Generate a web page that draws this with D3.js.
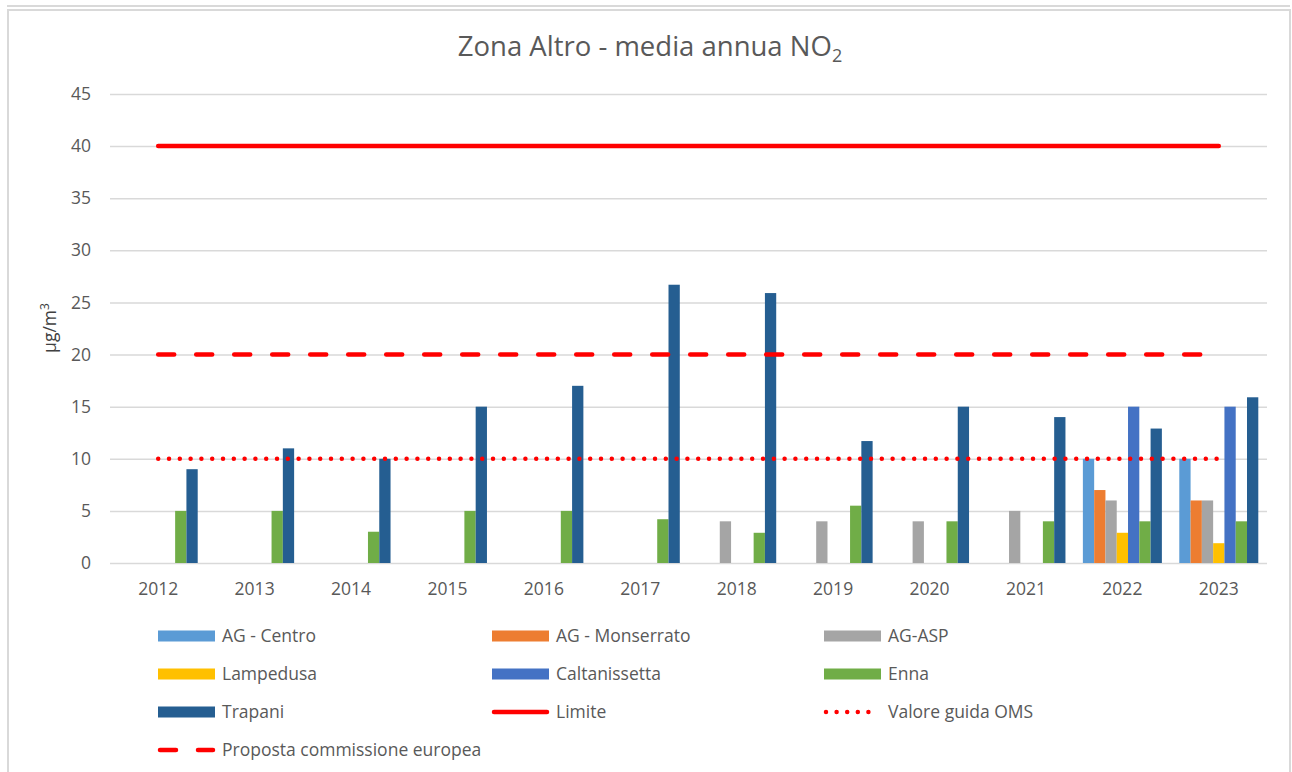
<!DOCTYPE html>
<html>
<head>
<meta charset="utf-8">
<script src="https://cdn.jsdelivr.net/npm/d3@7"></script>
<style>
  body { margin: 0; background: #fff; }
  text { font-family: "Open Sans", sans-serif; }
</style>
</head>
<body>
<svg id="chart" width="1292" height="772"></svg>
<script>
// categories and values
const years = ["2012","2013","2014","2015","2016","2017","2018","2019","2020","2021","2022","2023"];
const seriesNames = ["AG - Centro","AG - Monserrato","AG-ASP","Lampedusa","Caltanissetta","Enna","Trapani"];
const agCentro     = [null,null,null,null,null,null,null,null,null,null,10,10];
const agMonserrato = [null,null,null,null,null,null,null,null,null,null,7,6];
const agAsp        = [null,null,null,null,null,null,4,4,4,5,6,6];
const lampedusa    = [null,null,null,null,null,null,null,null,null,null,2.9,1.9];
const caltanissetta= [null,null,null,null,null,null,null,null,null,null,15,15];
const enna         = [5,5,3,5,5,4.2,2.9,5.5,4,4,4,4];
const trapani      = [9,11,10,15,17,26.7,25.9,11.7,15,14,12.9,15.9];
const limite       = [40,40,40,40,40,40,40,40,40,40,40,40];
const oms          = [10,10,10,10,10,10,10,10,10,10,10,10];
const proposta     = [20,20,20,20,20,20,20,20,20,20,20,20];
const yTicks = [0,5,10,15,20,25,30,35,40,45];

const barValues = [agCentro, agMonserrato, agAsp, lampedusa, caltanissetta, enna, trapani];
const barColors = ["#5B9BD5","#ED7D31","#A5A5A5","#FFC000","#4472C4","#70AD47","#255E91"];

const svg = d3.select("#chart");
svg.append("rect").attr("width", 1292).attr("height", 772).attr("fill", "#fff");

// frames (one above, chart border)
svg.append("line").attr("x1", 7).attr("x2", 1290).attr("y1", 6).attr("y2", 6)
    .attr("stroke", "#d9d9d9").attr("stroke-width", 2);
svg.append("rect").attr("x", 8).attr("y", 10).attr("width", 1282).attr("height", 800)
    .attr("fill", "none").attr("stroke", "#d9d9d9").attr("stroke-width", 2);

const x = d3.scaleBand().domain(years).range([110, 1267]);
const xs = d3.scaleBand().domain(seriesNames).range([-39.5, 39.5]);
const y = d3.scaleLinear().domain([0, 45]).range([563, 94]);
const cx = d => x(d) + x.bandwidth() / 2;

// gridlines + y labels
const yAxis = svg.append("g").attr("transform", "translate(110,0)")
    .call(d3.axisLeft(y).tickValues(yTicks).tickSize(-(1267 - 110)).tickPadding(19));
yAxis.select(".domain").remove();
yAxis.selectAll(".tick line").attr("stroke", "#d9d9d9").attr("stroke-width", 1.5);
yAxis.selectAll(".tick text").attr("fill", "#595959").attr("font-size", "17.5px");

// x labels
const xAxis = svg.append("g").attr("transform", "translate(0,563)")
    .call(d3.axisBottom(x).tickSize(0).tickPadding(20));
xAxis.select(".domain").remove();
xAxis.selectAll(".tick text").attr("fill", "#595959").attr("font-size", "17.5px");

// bars
seriesNames.forEach((name, s) => {
    svg.append("g").selectAll("rect")
        .data(years.map((yr, i) => ({ yr: yr, v: barValues[s][i] })).filter(d => d.v != null))
        .enter().append("rect")
        .attr("x", d => cx(d.yr) + xs(name))
        .attr("width", xs.bandwidth())
        .attr("y", d => y(d.v))
        .attr("height", d => y(0) - y(d.v))
        .attr("fill", barColors[s]);
});

// reference lines
const line = d3.line().x((d, i) => cx(years[i])).y(d => y(d));
svg.append("path").datum(limite).attr("d", line)
    .attr("fill", "none").attr("stroke", "#FF0000").attr("stroke-width", 4.5).attr("stroke-linecap", "round");
svg.append("path").datum(proposta).attr("d", line)
    .attr("fill", "none").attr("stroke", "#FF0000").attr("stroke-width", 4.5)
    .attr("stroke-linecap", "round").attr("stroke-dasharray", "16 22");
svg.append("path").datum(oms).attr("d", line)
    .attr("fill", "none").attr("stroke", "#FF0000").attr("stroke-width", 4.5)
    .attr("stroke-linecap", "round").attr("stroke-dasharray", "0 10.8");

// title
const title = svg.append("text").attr("x", 650).attr("y", 56).attr("text-anchor", "middle")
    .attr("fill", "#595959").attr("font-size", "27.5px");
title.append("tspan").text("Zona Altro - media annua NO");
title.append("tspan").attr("dy", 6).attr("font-size", "18px").text("2");

// y axis title
const yt = svg.append("text").attr("transform", "translate(56,328) rotate(-90)")
    .attr("text-anchor", "middle").attr("fill", "#404040").attr("font-size", "17.5px");
yt.append("tspan").text("µg/m");
yt.append("tspan").attr("dy", -7).attr("font-size", "12px").text("3");

// legend
const legendItems = seriesNames.map((n, i) => ({ name: n, type: "bar", color: barColors[i] }))
    .concat([
        { name: "Limite", type: "solid" },
        { name: "Valore guida OMS", type: "dot" },
        { name: "Proposta commissione europea", type: "dash" }
    ]);
const colX = [158, 492, 824];
const rowY = [636, 674, 712, 750];
const lg = svg.append("g").selectAll("g").data(legendItems).enter().append("g")
    .attr("transform", (d, i) => `translate(${colX[i % 3]},${rowY[Math.floor(i / 3)]})`);
lg.filter(d => d.type === "bar").append("rect")
    .attr("x", 0).attr("y", -5.5).attr("width", 57).attr("height", 11).attr("fill", d => d.color);
lg.filter(d => d.type !== "bar").append("line")
    .attr("x1", 2).attr("x2", 55).attr("y1", 0).attr("y2", 0)
    .attr("stroke", "#FF0000").attr("stroke-width", 4.5).attr("stroke-linecap", "round")
    .attr("stroke-dasharray", d => d.type === "dot" ? "0 10.6" : d.type === "dash" ? "16 22" : null);
lg.append("text").attr("x", 64).attr("y", 0).attr("dy", "0.35em")
    .attr("fill", "#595959").attr("font-size", "17.5px").text(d => d.name);
</script>
</body>
</html>
